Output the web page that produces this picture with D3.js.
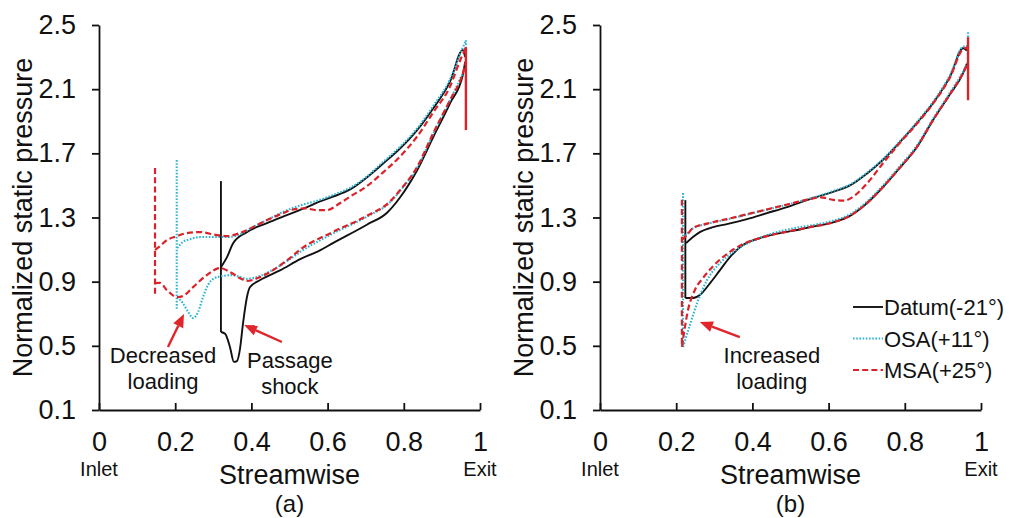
<!DOCTYPE html>
<html>
<head>
<meta charset="utf-8">
<script src="https://cdn.jsdelivr.net/npm/d3@7"></script>
<style>
  html, body { margin: 0; padding: 0; background: #fff; }
  svg { display: block; }
  text { font-family: "Liberation Sans", Arial, sans-serif; fill: #111; }
</style>
</head>
<body>
<svg id="chart" width="1009" height="518"></svg>
<script>
// ---- axis ticks ----
const yTicks = [0.1, 0.5, 0.9, 1.3, 1.7, 2.1, 2.5];
const xTicks = [0, 0.2, 0.4, 0.6, 0.8, 1];

// ---- series ----
const seriesNames = ["Datum(-21°)", "OSA(+11°)", "MSA(+25°)"];

// Panel (a): blade-surface static pressure, [streamwise, pressure]
const datumA_upper = [[0.320,0.99],[0.336,1.053],[0.352,1.14],[0.388,1.209],[0.441,1.265],[0.493,1.315],[0.546,1.365],[0.580,1.40],[0.614,1.43],[0.659,1.475],[0.703,1.55],[0.745,1.635],[0.790,1.73],[0.835,1.845],[0.877,1.98],[0.921,2.145],[0.955,2.345],[0.961,2.30]];
const datumA_lower = [[0.320,0.586],[0.331,0.575],[0.344,0.49],[0.354,0.40],[0.362,0.405],[0.370,0.48],[0.378,0.64],[0.388,0.80],[0.396,0.865],[0.423,0.91],[0.475,0.97],[0.528,1.04],[0.580,1.095],[0.614,1.14],[0.703,1.255],[0.756,1.33],[0.790,1.425],[0.835,1.595],[0.877,1.80],[0.921,2.01],[0.955,2.19],[0.961,2.27]];
const osaA_upper = [[0.205,1.109],[0.220,1.147],[0.239,1.165],[0.265,1.178],[0.299,1.178],[0.336,1.178],[0.370,1.195],[0.404,1.24],[0.441,1.284],[0.483,1.335],[0.528,1.375],[0.580,1.41],[0.614,1.44],[0.659,1.485],[0.703,1.555],[0.745,1.645],[0.790,1.74],[0.835,1.855],[0.877,1.995],[0.921,2.16],[0.955,2.36],[0.963,2.40]];
const osaA_lower = [[0.205,0.804],[0.220,0.767],[0.234,0.711],[0.247,0.673],[0.260,0.711],[0.273,0.804],[0.286,0.879],[0.299,0.916],[0.323,0.935],[0.352,0.941],[0.370,0.929],[0.388,0.918],[0.423,0.935],[0.457,0.975],[0.501,1.04],[0.528,1.085],[0.614,1.20],[0.703,1.305],[0.764,1.395],[0.790,1.465],[0.835,1.61],[0.877,1.82],[0.921,2.03],[0.955,2.20]];
const msaA_upper = [[0.147,1.097],[0.160,1.122],[0.178,1.159],[0.205,1.184],[0.231,1.203],[0.265,1.209],[0.310,1.19],[0.336,1.184],[0.370,1.203],[0.404,1.24],[0.441,1.284],[0.483,1.327],[0.509,1.35],[0.541,1.357],[0.572,1.346],[0.598,1.346],[0.633,1.39],[0.659,1.43],[0.703,1.495],[0.745,1.58],[0.790,1.68],[0.835,1.805],[0.877,1.955],[0.921,2.115],[0.948,2.28],[0.963,2.36]];
const msaA_lower = [[0.147,0.891],[0.160,0.893],[0.178,0.848],[0.205,0.804],[0.220,0.81],[0.247,0.866],[0.283,0.941],[0.318,0.985],[0.344,0.96],[0.370,0.922],[0.388,0.905],[0.423,0.929],[0.457,0.972],[0.501,1.047],[0.528,1.10],[0.614,1.21],[0.703,1.31],[0.764,1.40],[0.790,1.47],[0.835,1.615],[0.877,1.825],[0.921,2.03],[0.955,2.20],[0.963,2.27]];
// leading/trailing-edge spikes: [series index, streamwise, top, bottom]
const spikesA = [[0,0.320,1.527,0.586],[1,0.204,1.658,0.729],[1,0.963,2.405,2.30],[2,0.147,1.608,0.804],[2,0.963,2.362,1.845]];

// Panel (b)
const datumB_upper = [[0.226,1.14],[0.244,1.178],[0.262,1.209],[0.297,1.24],[0.333,1.259],[0.386,1.29],[0.438,1.327],[0.491,1.365],[0.551,1.415],[0.612,1.46],[0.656,1.50],[0.701,1.575],[0.743,1.66],[0.787,1.77],[0.832,1.89],[0.874,2.013],[0.919,2.18],[0.953,2.355],[0.963,2.34]];
const datumB_lower = [[0.224,0.798],[0.244,0.798],[0.262,0.817],[0.289,0.891],[0.315,0.972],[0.341,1.053],[0.375,1.128],[0.420,1.172],[0.472,1.203],[0.525,1.225],[0.551,1.24],[0.612,1.27],[0.656,1.31],[0.701,1.39],[0.743,1.49],[0.787,1.61],[0.832,1.74],[0.874,1.907],[0.919,2.07],[0.953,2.2],[0.963,2.26]];
const osaB_upper = [[0.218,1.17],[0.230,1.20],[0.244,1.232],[0.281,1.26],[0.333,1.288],[0.420,1.338],[0.507,1.39],[0.551,1.418],[0.612,1.465],[0.656,1.505],[0.701,1.58],[0.743,1.665],[0.787,1.775],[0.832,1.895],[0.874,2.02],[0.919,2.19],[0.953,2.365],[0.966,2.37]];
const osaB_lower = [[0.218,0.493],[0.236,0.63],[0.255,0.767],[0.281,0.91],[0.315,1.016],[0.349,1.084],[0.394,1.147],[0.446,1.196],[0.525,1.24],[0.551,1.25],[0.612,1.28],[0.656,1.32],[0.701,1.40],[0.743,1.50],[0.787,1.62],[0.832,1.75],[0.874,1.915],[0.919,2.08],[0.953,2.21],[0.966,2.27]];
const msaB_upper = [[0.215,1.16],[0.228,1.19],[0.244,1.235],[0.281,1.262],[0.333,1.29],[0.420,1.34],[0.507,1.39],[0.551,1.415],[0.580,1.425],[0.612,1.41],[0.640,1.405],[0.670,1.44],[0.700,1.51],[0.745,1.645],[0.787,1.765],[0.832,1.885],[0.874,2.01],[0.919,2.175],[0.953,2.35],[0.966,2.36]];
const msaB_lower = [[0.215,0.493],[0.231,0.723],[0.249,0.848],[0.270,0.922],[0.297,0.997],[0.333,1.072],[0.375,1.134],[0.420,1.172],[0.472,1.203],[0.525,1.228],[0.551,1.24],[0.612,1.27],[0.656,1.31],[0.701,1.39],[0.743,1.49],[0.787,1.61],[0.832,1.74],[0.874,1.907],[0.919,2.07],[0.953,2.2],[0.966,2.26]];
const spikesB = [[0,0.224,1.408,0.798],[1,0.218,1.452,0.493],[1,0.966,2.455,2.22],[2,0.215,1.41,0.493],[2,0.966,2.424,2.031]];

// Annotations: text lines [streamwise, pressure, text] and arrows [tailX, tailY, tipX, tipY]
const notesA = [[0.168,0.393,"Decreased"],[0.168,0.231,"loading"],[0.501,0.362,"Passage"],[0.501,0.20,"shock"]];
const arrowsA = [[0.181,0.493,0.223,0.698],[0.480,0.524,0.381,0.630]];
const notesB = [[0.451,0.393,"Increased"],[0.451,0.231,"loading"]];
const arrowsB = [[0.367,0.555,0.262,0.648]];

// ---- styles ----
const colors = ["#111111", "#2cb5d6", "#db2229"];
const widths = [1.9, 2.1, 2.2];
const dashes = [null, "1.6,1.6", "6,3.2"];
const font = '"Liberation Sans", Arial, sans-serif';

const svg = d3.select("#chart");
svg.append("rect").attr("width", 1009).attr("height", 518).attr("fill", "#fff");

const panels = [
  { left: 99,  label: "(a)", upper: [datumA_upper, osaA_upper, msaA_upper], lower: [datumA_lower, osaA_lower, msaA_lower], spikes: spikesA, notes: notesA, arrows: arrowsA, legend: false },
  { left: 600, label: "(b)", upper: [datumB_upper, osaB_upper, msaB_upper], lower: [datumB_lower, osaB_lower, msaB_lower], spikes: spikesB, notes: notesB, arrows: arrowsB, legend: true }
];

const plotTop = 25, plotBottom = 410, plotW = 381;
const y = d3.scaleLinear().domain([0.1, 2.5]).range([plotBottom, plotTop]);

panels.forEach(p => {
  const x = d3.scaleLinear().domain([0, 1]).range([p.left, p.left + plotW]);
  const g = svg.append("g");

  // y axis
  const ya = g.append("g").attr("transform", `translate(${p.left},0)`)
    .call(d3.axisLeft(y).tickValues(yTicks).tickSize(7).tickSizeOuter(0).tickPadding(16).tickFormat(d3.format(".1f")));
  // x axis, ticks pointing into the plot
  const xa = g.append("g").attr("transform", `translate(0,${plotBottom})`)
    .call(d3.axisBottom(x).tickValues(xTicks).tickSize(-7).tickSizeOuter(0).tickPadding(22).tickFormat(d3.format("~g")));
  [ya, xa].forEach(a => {
    a.select(".domain").attr("stroke", "#111").attr("stroke-width", 1.8);
    a.selectAll(".tick line").attr("stroke", "#111").attr("stroke-width", 1.8);
    a.selectAll(".tick text").attr("font-size", 27).attr("fill", "#111").style("font-family", font);
  });

  // axis titles
  g.append("text").attr("transform", `translate(${p.left - 67},${(plotTop + plotBottom) / 2}) rotate(-90)`)
    .attr("text-anchor", "middle").attr("font-size", 27).text("Normalized static pressure");
  g.append("text").attr("x", x(0.5)).attr("y", 484).attr("text-anchor", "middle").attr("font-size", 27).text("Streamwise");
  g.append("text").attr("x", x(0.5)).attr("y", 512).attr("text-anchor", "middle").attr("font-size", 24).text(p.label);
  g.append("text").attr("x", x(0)).attr("y", 476).attr("text-anchor", "middle").attr("font-size", 20).text("Inlet");
  g.append("text").attr("x", x(1)).attr("y", 476).attr("text-anchor", "middle").attr("font-size", 20).text("Exit");

  const line = d3.line().x(d => x(d[0])).y(d => y(d[1])).curve(d3.curveMonotoneX);

  [0, 1, 2].forEach(i => {
    const style = sel => sel.attr("fill", "none").attr("stroke", colors[i]).attr("stroke-width", widths[i])
      .attr("stroke-dasharray", dashes[i]).attr("stroke-linejoin", "round");
    g.append("path").datum(p.lower[i]).attr("d", line).call(style);
    g.append("path").datum(p.upper[i]).attr("d", line).call(style);
    p.spikes.filter(s => s[0] === i).forEach(s => {
      const trailing = s[1] > 0.9;
      g.append("line").attr("x1", x(s[1])).attr("x2", x(s[1])).attr("y1", y(s[2])).attr("y2", y(s[3]))
        .attr("stroke", colors[i]).attr("stroke-width", trailing && i === 2 ? 2.4 : widths[i])
        .attr("stroke-dasharray", trailing && i === 2 ? null : dashes[i]);
    });
  });

  // annotations
  p.notes.forEach(n => {
    g.append("text").attr("x", x(n[0])).attr("y", y(n[1])).attr("text-anchor", "middle").attr("font-size", 22).text(n[2]);
  });
  p.arrows.forEach(a => {
    const x1 = x(a[0]), y1 = y(a[1]), x2 = x(a[2]), y2 = y(a[3]);
    const ang = Math.atan2(y2 - y1, x2 - x1), L = 13, Wd = 5.5;
    const bx = x2 - L * Math.cos(ang), by = y2 - L * Math.sin(ang);
    g.append("line").attr("x1", x1).attr("y1", y1).attr("x2", bx).attr("y2", by)
      .attr("stroke", "#e0252b").attr("stroke-width", 2.4);
    const px = -Math.sin(ang) * Wd, py = Math.cos(ang) * Wd;
    g.append("polygon").attr("points", `${x2},${y2} ${bx + px},${by + py} ${bx - px},${by - py}`).attr("fill", "#e0252b");
  });

  // legend
  if (p.legend) {
    const lg = g.append("g");
    seriesNames.forEach((name, i) => {
      const cy = 307 + i * 31.5;
      lg.append("line").attr("x1", 853).attr("x2", 883).attr("y1", cy).attr("y2", cy)
        .attr("stroke", colors[i]).attr("stroke-width", widths[i]).attr("stroke-dasharray", dashes[i]);
      lg.append("text").attr("x", 884).attr("y", cy + 8).attr("font-size", 22).text(name);
    });
  }
});
</script>
</body>
</html>
